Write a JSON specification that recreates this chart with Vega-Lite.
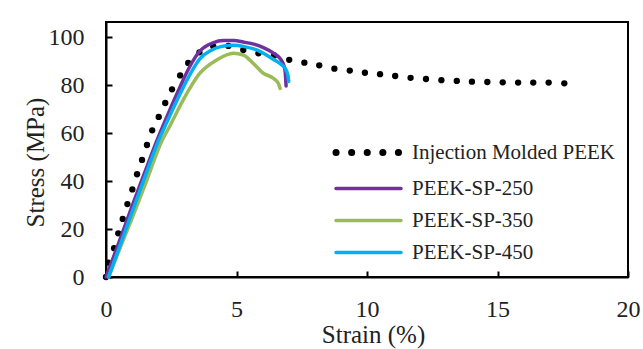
{
  "$schema": "https://vega.github.io/schema/vega-lite/v6.json",
  "width": 522,
  "height": 255,
  "autosize": {"type": "none"},
  "padding": {"left": 106, "top": 22, "right": 15, "bottom": 72},
  "background": "white",
  "config": {
    "font": "Times New Roman, Liberation Serif, serif",
    "view": {"stroke": "black", "strokeWidth": 2},
    "axis": {
      "grid": false,
      "domainColor": "black",
      "domainWidth": 2,
      "tickColor": "black",
      "tickWidth": 2,
      "tickSize": -6,
      "labelFlush": false,
      "labelFont": "Times New Roman, Liberation Serif, serif",
      "labelFontSize": 24,
      "labelColor": "#222222",
      "titleFont": "Times New Roman, Liberation Serif, serif",
      "titleFontSize": 25,
      "titleFontWeight": "normal",
      "titleColor": "#222222"
    }
  },
  "datasets": {
    "im": [
      {"series": "Injection Molded PEEK", "strain": 0.0, "stress": 0.0},
      {"series": "Injection Molded PEEK", "strain": 0.09, "stress": 6.0},
      {"series": "Injection Molded PEEK", "strain": 0.31, "stress": 12.0},
      {"series": "Injection Molded PEEK", "strain": 0.47, "stress": 18.2},
      {"series": "Injection Molded PEEK", "strain": 0.64, "stress": 24.2},
      {"series": "Injection Molded PEEK", "strain": 0.82, "stress": 30.4},
      {"series": "Injection Molded PEEK", "strain": 1.01, "stress": 36.5},
      {"series": "Injection Molded PEEK", "strain": 1.19, "stress": 42.8},
      {"series": "Injection Molded PEEK", "strain": 1.38, "stress": 48.8},
      {"series": "Injection Molded PEEK", "strain": 1.57, "stress": 55.0},
      {"series": "Injection Molded PEEK", "strain": 1.77, "stress": 61.1},
      {"series": "Injection Molded PEEK", "strain": 2.02, "stress": 66.7},
      {"series": "Injection Molded PEEK", "strain": 2.27, "stress": 72.5},
      {"series": "Injection Molded PEEK", "strain": 2.53, "stress": 78.2},
      {"series": "Injection Molded PEEK", "strain": 2.84, "stress": 84.0},
      {"series": "Injection Molded PEEK", "strain": 3.15, "stress": 89.2},
      {"series": "Injection Molded PEEK", "strain": 3.58, "stress": 93.6},
      {"series": "Injection Molded PEEK", "strain": 4.11, "stress": 96.1},
      {"series": "Injection Molded PEEK", "strain": 4.69, "stress": 96.3},
      {"series": "Injection Molded PEEK", "strain": 5.26, "stress": 94.6},
      {"series": "Injection Molded PEEK", "strain": 5.84, "stress": 93.2},
      {"series": "Injection Molded PEEK", "strain": 6.44, "stress": 92.3},
      {"series": "Injection Molded PEEK", "strain": 7.02, "stress": 90.5},
      {"series": "Injection Molded PEEK", "strain": 7.6, "stress": 89.3},
      {"series": "Injection Molded PEEK", "strain": 8.17, "stress": 88.2},
      {"series": "Injection Molded PEEK", "strain": 8.75, "stress": 86.8},
      {"series": "Injection Molded PEEK", "strain": 9.34, "stress": 86.0},
      {"series": "Injection Molded PEEK", "strain": 9.92, "stress": 85.1},
      {"series": "Injection Molded PEEK", "strain": 10.5, "stress": 84.5},
      {"series": "Injection Molded PEEK", "strain": 11.08, "stress": 83.75},
      {"series": "Injection Molded PEEK", "strain": 11.67, "stress": 83.0},
      {"series": "Injection Molded PEEK", "strain": 12.26, "stress": 82.5},
      {"series": "Injection Molded PEEK", "strain": 12.85, "stress": 82.0},
      {"series": "Injection Molded PEEK", "strain": 13.44, "stress": 81.7},
      {"series": "Injection Molded PEEK", "strain": 14.02, "stress": 81.4},
      {"series": "Injection Molded PEEK", "strain": 14.61, "stress": 81.25},
      {"series": "Injection Molded PEEK", "strain": 15.2, "stress": 81.1},
      {"series": "Injection Molded PEEK", "strain": 15.79, "stress": 81.0},
      {"series": "Injection Molded PEEK", "strain": 16.37, "stress": 81.0},
      {"series": "Injection Molded PEEK", "strain": 16.96, "stress": 81.0},
      {"series": "Injection Molded PEEK", "strain": 17.56, "stress": 80.7}
    ],
    "sp": [
      {"series": "PEEK-SP-250", "strain": 0.0, "stress": 0.0},
      {"series": "PEEK-SP-250", "strain": 0.5, "stress": 14.5},
      {"series": "PEEK-SP-250", "strain": 1.0, "stress": 29.5},
      {"series": "PEEK-SP-250", "strain": 1.5, "stress": 44.0},
      {"series": "PEEK-SP-250", "strain": 1.9, "stress": 55.5},
      {"series": "PEEK-SP-250", "strain": 2.4, "stress": 68.5},
      {"series": "PEEK-SP-250", "strain": 2.84, "stress": 79.3},
      {"series": "PEEK-SP-250", "strain": 3.2, "stress": 87.5},
      {"series": "PEEK-SP-250", "strain": 3.6, "stress": 94.2},
      {"series": "PEEK-SP-250", "strain": 4.1, "stress": 97.6},
      {"series": "PEEK-SP-250", "strain": 4.5, "stress": 98.5},
      {"series": "PEEK-SP-250", "strain": 4.9, "stress": 98.5},
      {"series": "PEEK-SP-250", "strain": 5.26, "stress": 97.9},
      {"series": "PEEK-SP-250", "strain": 5.7, "stress": 96.9},
      {"series": "PEEK-SP-250", "strain": 6.03, "stress": 95.6},
      {"series": "PEEK-SP-250", "strain": 6.4, "stress": 93.4},
      {"series": "PEEK-SP-250", "strain": 6.67, "stress": 91.0},
      {"series": "PEEK-SP-250", "strain": 6.8, "stress": 88.5},
      {"series": "PEEK-SP-250", "strain": 6.86, "stress": 86.0},
      {"series": "PEEK-SP-250", "strain": 6.9, "stress": 79.6},
      {"series": "PEEK-SP-350", "strain": 0.1, "stress": 0.0},
      {"series": "PEEK-SP-350", "strain": 0.5, "stress": 11.0},
      {"series": "PEEK-SP-350", "strain": 1.0, "stress": 24.5},
      {"series": "PEEK-SP-350", "strain": 1.5, "stress": 38.5},
      {"series": "PEEK-SP-350", "strain": 2.13, "stress": 56.5},
      {"series": "PEEK-SP-350", "strain": 2.45, "stress": 63.0},
      {"series": "PEEK-SP-350", "strain": 2.96, "stress": 73.8},
      {"series": "PEEK-SP-350", "strain": 3.6, "stress": 84.9},
      {"series": "PEEK-SP-350", "strain": 4.24, "stress": 90.4},
      {"series": "PEEK-SP-350", "strain": 4.88, "stress": 93.2},
      {"series": "PEEK-SP-350", "strain": 5.26, "stress": 92.5},
      {"series": "PEEK-SP-350", "strain": 5.64, "stress": 89.0},
      {"series": "PEEK-SP-350", "strain": 6.03, "stress": 84.9},
      {"series": "PEEK-SP-350", "strain": 6.41, "stress": 82.8},
      {"series": "PEEK-SP-350", "strain": 6.6, "stress": 80.7},
      {"series": "PEEK-SP-350", "strain": 6.67, "stress": 78.6},
      {"series": "PEEK-SP-450", "strain": 0.1, "stress": 0.0},
      {"series": "PEEK-SP-450", "strain": 0.5, "stress": 12.0},
      {"series": "PEEK-SP-450", "strain": 1.0, "stress": 27.0},
      {"series": "PEEK-SP-450", "strain": 1.5, "stress": 42.0},
      {"series": "PEEK-SP-450", "strain": 2.0, "stress": 56.5},
      {"series": "PEEK-SP-450", "strain": 2.33, "stress": 64.5},
      {"series": "PEEK-SP-450", "strain": 2.96, "stress": 79.0},
      {"series": "PEEK-SP-450", "strain": 3.3, "stress": 86.0},
      {"series": "PEEK-SP-450", "strain": 3.6, "stress": 91.0},
      {"series": "PEEK-SP-450", "strain": 4.0, "stress": 94.3},
      {"series": "PEEK-SP-450", "strain": 4.4, "stress": 96.0},
      {"series": "PEEK-SP-450", "strain": 4.88, "stress": 96.6},
      {"series": "PEEK-SP-450", "strain": 5.3, "stress": 96.0},
      {"series": "PEEK-SP-450", "strain": 5.77, "stress": 94.6},
      {"series": "PEEK-SP-450", "strain": 6.1, "stress": 92.8},
      {"series": "PEEK-SP-450", "strain": 6.41, "stress": 90.7},
      {"series": "PEEK-SP-450", "strain": 6.7, "stress": 88.7},
      {"series": "PEEK-SP-450", "strain": 6.86, "stress": 87.0},
      {"series": "PEEK-SP-450", "strain": 6.97, "stress": 84.0},
      {"series": "PEEK-SP-450", "strain": 7.0, "stress": 81.5}
    ]
  },
  "encoding": {
    "x": {
      "field": "strain", "type": "quantitative",
      "scale": {"domain": [0, 20], "nice": false},
      "axis": {"values": [0, 5, 10, 15, 20], "title": "Strain (%)", "labelPadding": 26, "titleX": 267, "titleY": 57, "titleBaseline": "middle"}
    },
    "y": {
      "field": "stress", "type": "quantitative",
      "scale": {"domain": [0, 106.25], "nice": false},
      "axis": {"values": [0, 20, 40, 60, 80, 100], "title": "Stress (MPa)", "labelPadding": 28, "titleAngle": -90, "titleX": -71, "titleY": 140, "titleBaseline": "middle", "titleAlign": "center"}
    },
    "color": {
      "field": "series", "type": "nominal",
      "scale": {
        "domain": ["Injection Molded PEEK", "PEEK-SP-250", "PEEK-SP-350", "PEEK-SP-450"],
        "range": ["#000000", "#7030A0", "#9BBB59", "#00B0F0"]
      },
      "legend": {
        "orient": "none", "legendX": 252, "legendY": 120,
        "title": null, "padding": 0,
        "symbolType": "stroke", "symbolSize": 4225, "symbolStrokeWidth": 3.5,
        "labelFont": "Times New Roman, Liberation Serif, serif", "labelFontSize": 21, "labelColor": "#222222",
        "labelLimit": 0,
        "labelOffset": 33, "rowPadding": 10,
        "encode": {
          "symbols": {
            "update": {
              "strokeDash": {"signal": "datum.value === 'Injection Molded PEEK' ? [0.1, 15.5] : [1, 0]"},
              "strokeWidth": {"signal": "datum.value === 'Injection Molded PEEK' ? 7 : 3.5"},
              "strokeCap": {"value": "round"},
              "fill": {"value": "transparent"}
            }
          }
        }
      }
    }
  },
  "layer": [
    {
      "data": {"name": "im"},
      "mark": {"type": "point", "filled": true, "size": 40, "opacity": 1}
    },
    {
      "data": {"name": "sp"},
      "mark": {"type": "line", "strokeWidth": 3.5, "strokeCap": "round", "strokeJoin": "round", "interpolate": "monotone"}
    }
  ]
}
